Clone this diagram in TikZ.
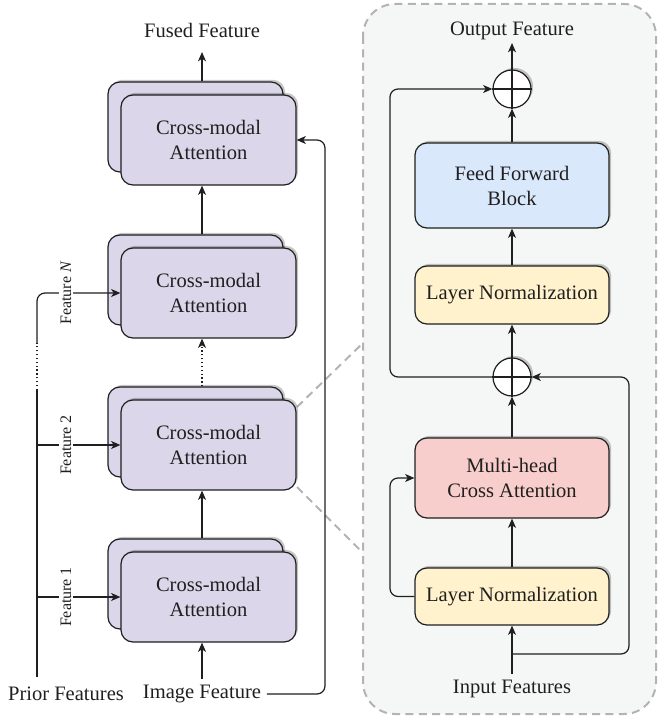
\documentclass[tikz,border=0pt]{standalone}
\usepackage{fontspec}
\setmainfont{Liberation Serif}
\usepackage{tikz}
\usetikzlibrary{arrows.meta,shadows}
\definecolor{cmfill}{HTML}{DCD6EA}
\definecolor{fffill}{HTML}{DAE8FC}
\definecolor{lnfill}{HTML}{FFF2CC}
\definecolor{mhfill}{HTML}{F8CECC}
\definecolor{panelfill}{HTML}{F5F6F6}
\definecolor{paneldraw}{HTML}{B3B3B3}
\definecolor{ink}{HTML}{1F1F1F}
\tikzset{every picture/.style={line width=0.9pt}}
\tikzset{
  arr/.style={-{Stealth[length=7pt,width=6pt,inset=2pt]}},
  shade/.style={drop shadow={shadow xshift=1.6pt,shadow yshift=1.6pt,fill=black,opacity=0.22}},
  blk/.style={draw=ink,rounded corners=9pt,align=center,text=ink,minimum width=145.5pt,shade},
  cmbox/.style={blk,fill=cmfill,minimum width=131.25pt,minimum height=67.5pt},
  addnode/.style={draw=ink,circle,fill=white,minimum size=28.5pt,inner sep=0pt,shade},
  lbl/.style={text=ink,inner sep=2pt},
  featlbl/.style={lbl,rotate=90,fill=white,font=\rmfamily\fontsize{12}{14}\selectfont,inner sep=1pt}
}

\begin{document}
\begin{tikzpicture}[x=0.75pt,y=0.75pt,yscale=-1,xscale=1,font=\rmfamily\fontsize{15.4}{18.75}\selectfont,draw=ink]
		\useasboundingbox (0,0) rectangle (657,717);
		
		%Zoom lines
		\coordinate (zoomA) at (363,343);
		\coordinate (zoomB) at (363,553);
		\draw [paneldraw,line width=1.5pt,dash pattern=on 6pt off 4pt] (297,407) -- (zoomA);
		\draw [paneldraw,line width=1.5pt,dash pattern=on 6pt off 4pt] (297,487) -- (zoomB);
		%Shape: Panel
		\draw [paneldraw,fill=panelfill,line width=1.5pt,dash pattern=on 6pt off 4pt,rounded corners=24pt] (363,4) rectangle (656,714);
		
		%Cross-modal blocks (back copies)
		\node [cmbox] (cm1b) at (195.5,127) {};
		\node [cmbox] (cm2b) at (195.5,280) {};
		\node [cmbox] (cm3b) at (195.5,432) {};
		\node [cmbox] (cm4b) at (195.5,584) {};
		%Cross-modal blocks (front)
		\node [cmbox] (cm1) at (208.5,140) {Cross-modal\\Attention};
		\node [cmbox] (cm2) at (208.5,293) {Cross-modal\\Attention};
		\node [cmbox] (cm3) at (208.5,445) {Cross-modal\\Attention};
		\node [cmbox] (cm4) at (208.5,597) {Cross-modal\\Attention};
		
		% Text Node
		\node [lbl] (fused) at (202,30) {Fused Feature};
		\node [lbl,inner sep=4pt] (img) at (202,694) {Image Feature};
		\node [lbl] (prior) at (66,694) {Prior Features};
		\coordinate (fusedin) at (202,52);
		
		%Straight Lines: main stack
		\draw [arr] (img.north) -- (cm4.south -| img);
		\draw [arr] (cm4b.north -| img) -- (cm3.south -| img);
		\draw [arr,dotted] (cm3b.north -| img) -- (cm2.south -| img);
		\draw [arr] (cm2b.north -| img) -- (cm1.south -| img);
		\draw [arr] (cm1b.north -| img) -- (fusedin);
		
		%Image feature loop
		\coordinate (imgturn) at (325,140);
		\draw [arr,rounded corners=6pt] (img.east) -| (imgturn) -- (cm1.east);
		
		%Prior features
		\coordinate (priortop) at (37,677);
		\coordinate (dotlo) at (37,390);
		\coordinate (dothi) at (37,343);
		\draw (priortop) -- (dotlo);
		\draw [dotted] (dotlo) -- (dothi);
		\draw [arr,rounded corners=6pt] (dothi) |- (cm2.west);
		\draw [arr] (priortop |- cm3.west) -- (cm3.west);
		\draw [arr] (priortop |- cm4.west) -- (cm4.west);
		\node [featlbl] at (66,293) {Feature \textit{N}};
		\node [featlbl] at (66,445) {Feature 2};
		\node [featlbl] at (66,597) {Feature 1};
		
		%Right panel blocks
		\node [lbl] (outf) at (512,31) {Output Feature};
		\node [addnode] (add1) at (512,89) {};
		\node [blk,fill=fffill,minimum height=63.75pt] (ffb) at (512,185.5) {Feed Forward\\Block};
		\node [blk,fill=lnfill,minimum height=43.5pt] (ln2) at (512,295) {Layer Normalization};
		\node [addnode] (add2) at (512,377) {};
		\node [blk,fill=mhfill,minimum height=60pt] (mhca) at (512,478) {Multi-head\\Cross Attention};
		\node [blk,fill=lnfill,minimum height=42.75pt] (ln1) at (512,596.5) {Layer Normalization};
		\node [lbl,inner sep=4pt] (inf) at (512,689) {Input Features};
		\draw (add1.north) -- (add1.south) (add1.west) -- (add1.east);
		\draw (add2.north) -- (add2.south) (add2.west) -- (add2.east);
		
		%Right panel connectors
		\coordinate (outin) at (512,43);
		\coordinate (split) at (512,654);
		\coordinate (rskip) at (629,377);
		\coordinate (lskipA) at (390,478);
		\coordinate (lskipB) at (390,89);
		\draw [arr] (inf.north) -- (ln1.south);
		\draw [arr] (ln1.north) -- (mhca.south);
		\draw [arr] (mhca.north) -- (add2.south);
		\draw [arr] (add2.north) -- (ln2.south);
		\draw [arr] (ln2.north) -- (ffb.south);
		\draw [arr] (ffb.north) -- (add1.south);
		\draw [arr] (add1.north) -- (outin);
		\draw [arr,rounded corners=6pt] (split) -| (rskip) -- (add2.east);
		\draw [arr,rounded corners=6pt] (ln1.west) -| (lskipA) -- (mhca.west);
		\draw [arr,rounded corners=6pt] (add2.west) -| (lskipB) -- (add1.west);
		
	\end{tikzpicture}
\end{document}
